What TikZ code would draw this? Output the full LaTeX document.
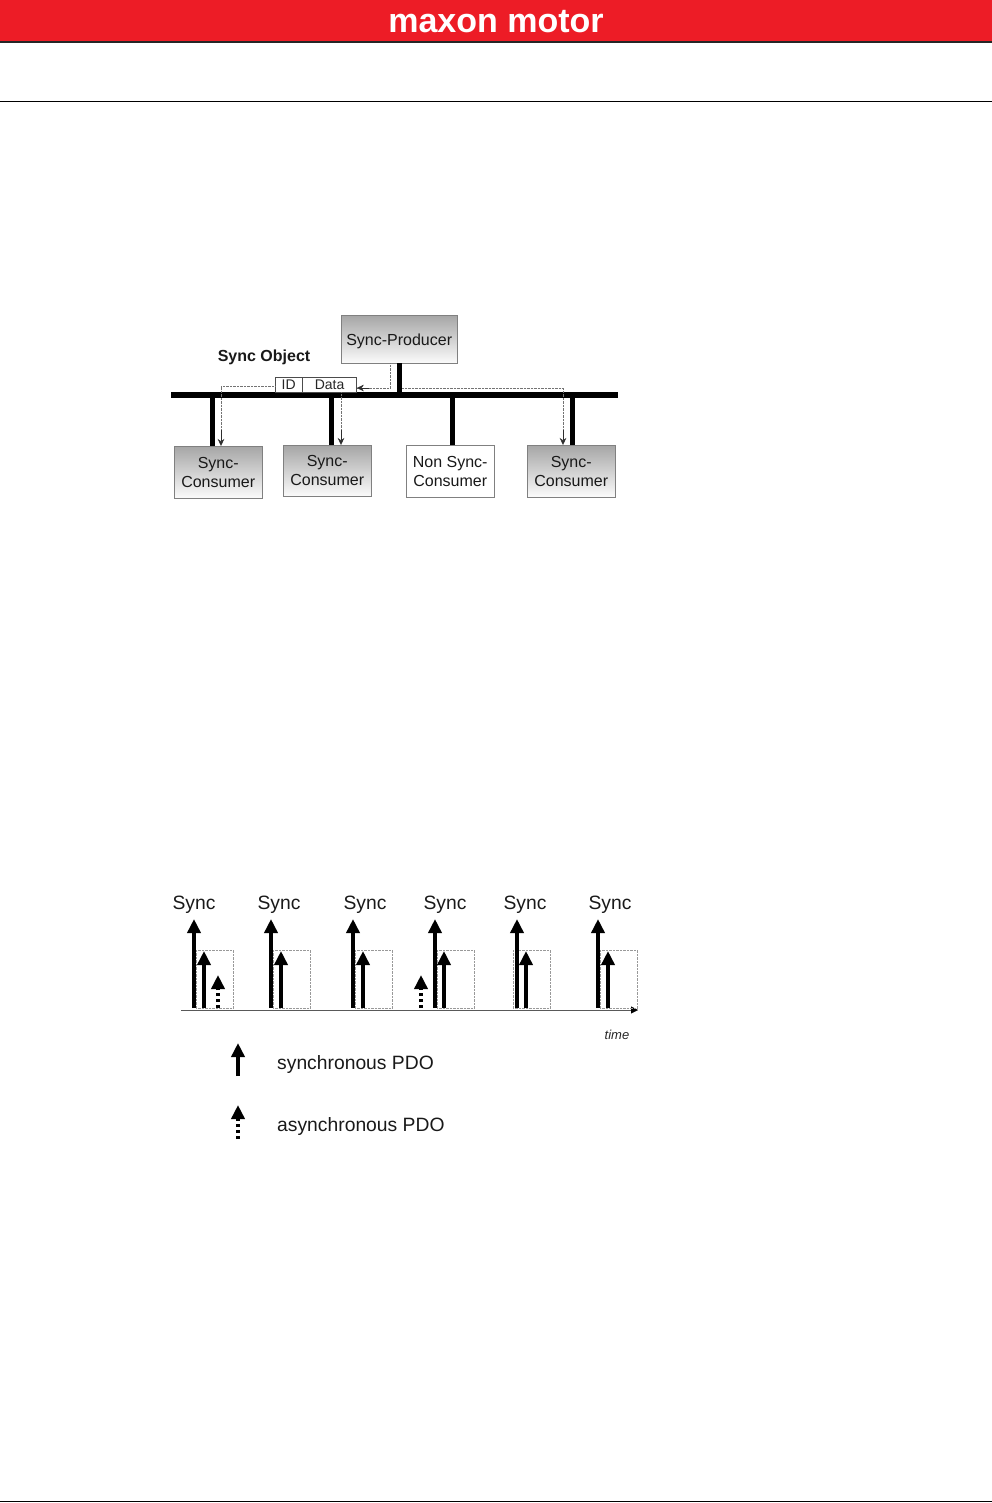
\documentclass[tikz,border=0pt]{standalone}
\usepackage{xcolor}
\usepackage{fontspec}
\usepackage{tikz}
\usetikzlibrary{arrows.meta}
\setmainfont{Liberation Sans}
\definecolor{maxonred}{rgb}{0.93, 0.11, 0.15}
\definecolor{signalgray}{rgb}{0.45, 0.45, 0.45}
\tikzset{
    stationbox/.style={draw=gray, thin, align=center, inner sep=0pt, anchor=north west,
        font=\fontsize{16}{19}\selectfont, text=black!90,
        execute at begin node={\rule{0pt}{15pt}}},
    syncbox/.style={stationbox, top color=gray!70, bottom color=gray!3},
    busline/.style={line width=6pt},
    stemline/.style={line width=5pt},
    signalline/.style={densely dotted, thin, signalgray},
    signaltip/.style={-{Stealth[length=7pt, width=6.5pt]}, thin, signalgray!40!black},
    pdoline/.style={-{Triangle[length=14pt, width=13pt]}, line width=3.5pt},
    asyncline/.style={pdoline, dash pattern=on 3.5pt off 2.5pt},
    windowbox/.style={draw=gray!80, densely dotted, thin, inner sep=0pt, anchor=north west,
        minimum width=37pt, minimum height=58pt},
    plainlabel/.style={font=\fontsize{19.3}{22}\selectfont, text=black!90, inner sep=0pt}
}

\begin{document}
\begin{tikzpicture}[x=1pt, y=-1pt]
    \useasboundingbox (0,0) rectangle (992,1503);

    % Page header and footer rules
    \fill[maxonred] (0,0) rectangle (992,41);
    \draw[line width=2pt, black!85] (0,42) -- (992,42);
    \node(brand)[text=white, font=\fontsize{34}{36}\selectfont\bfseries, inner sep=0pt] at (496,22) {maxon motor};
    \draw[thin, black] (0,101) -- (992,101);
    \draw[thin, black] (0,1501) -- (992,1501);

    % Bus with all its stations
    \coordinate (bus-west) at (171,395);
    \coordinate (bus-east) at (618,395);
    \draw[busline] (bus-west) -- (bus-east);

    \node(producer)[syncbox, minimum width=116pt, minimum height=48pt] at (341,315) {Sync-Producer};
    \node(consumer-a)[syncbox, minimum width=88pt, minimum height=52pt] at (174,446) {Sync-\\Consumer};
    \node(consumer-b)[syncbox, minimum width=88pt, minimum height=51pt] at (283,445) {Sync-\\Consumer};
    \node(consumer-c)[stationbox, fill=white, minimum width=88pt, minimum height=52pt] at (406,445) {Non Sync-\\Consumer};
    \node(consumer-d)[syncbox, minimum width=88pt, minimum height=52pt] at (527,445) {Sync-\\Consumer};

    \draw[stemline] (399,395) -- (producer.south -| 399,0);
    \foreach \stem/\target in {212/consumer-a, 331.5/consumer-b, 452/consumer-c, 572/consumer-d} {
        \draw[stemline] (\stem,395) -- (\target.north -| \stem,0);
    }

    % Sync object message on the bus
    \node(msg-id)[draw=black!70, thin, anchor=north west, inner sep=0pt, minimum width=27pt, minimum height=15pt,
        font=\fontsize{14}{16}\selectfont, text=black!85] at (275,377) {ID};
    \node(msg-data)[draw=black!70, thin, anchor=north west, inner sep=0pt, minimum width=54pt, minimum height=15pt,
        font=\fontsize{14}{16}\selectfont, text=black!85] at (msg-id.north east) {Data};
    \node(title)[font=\fontsize{16}{18}\selectfont\bfseries, text=black!90, inner sep=0pt] at (264,357.5) {Sync Object};

    % Dotted signal paths
    \coordinate (turn-a) at (221,386.5);
    \coordinate (turn-b) at (390,388);
    \coordinate (turn-c) at (563,388);
    \draw[signalline] (producer.south -| turn-b) -- (turn-b);
    \draw[signalline] (turn-b) -- (msg-data.east |- turn-b);
    \draw[signaltip] ([xshift=12pt]msg-data.east |- turn-b) -- (msg-data.east |- turn-b);
    \draw[signalline] (msg-id.west |- turn-a) -- (turn-a);
    \draw[signalline] (turn-a) -- (221,430);
    \draw[signaltip] (221,430) -- (consumer-a.north -| turn-a);
    \draw[signalline] (msg-data.south -| 341,0) -- (341,430);
    \draw[signaltip] (341,430) -- (consumer-b.north -| 341,0);
    \draw[signalline] (402,388) -- (turn-c);
    \draw[signalline] (turn-c) -- (563,430);
    \draw[signaltip] (563,430) -- (consumer-d.north -| turn-c);

    % Time line with the sync cycles
    \coordinate (time-west) at (181,1010);
    \coordinate (time-east) at (638,1010);
    \draw[thick, black!65] (time-west) -- (631,1010);
    \draw[-{Triangle[length=7pt, width=7pt]}, thin, black] (631,1010) -- (time-east);
    \node(time)[font=\fontsize{13}{15}\selectfont\itshape, text=black!85, inner sep=0pt] at (617,1035) {time};

    \foreach \sx/\px/\wx/\lx [count=\c from 1] in {194/204/196/194, 271/281/273/279, 353/363/355/365, 435/444/437/445, 517/526/513/525, 598/608/600/610} {
        \node(window-\c)[windowbox] at (\wx,950) {};
        \coordinate (sync-tip-\c) at (\sx,919);
        \draw[pdoline] (\sx,1008) -- (sync-tip-\c);
        \coordinate (pdo-tip-\c) at (\px,951);
        \draw[pdoline] (\px,1008) -- (pdo-tip-\c);
        \node(sync-\c)[plainlabel] at (\lx,905) {Sync};
    }

    % Asynchronous PDOs
    \foreach \ax [count=\c from 1] in {218, 421} {
        \coordinate (async-tip-\c) at (\ax,975);
        \draw[asyncline] (\ax,1008) -- (async-tip-\c);
    }

    % Legend
    \coordinate (legend-sync-tip) at (238,1043);
    \coordinate (legend-async-tip) at (238,1105);
    \draw[pdoline] (238,1076) -- (legend-sync-tip);
    \draw[asyncline] (238,1139) -- (legend-async-tip);
    \node(legend-sync)[plainlabel, anchor=west] at (277,1064) {synchronous PDO};
    \node(legend-async)[plainlabel, anchor=west] at (277,1126) {asynchronous PDO};
\end{tikzpicture}
\end{document}
